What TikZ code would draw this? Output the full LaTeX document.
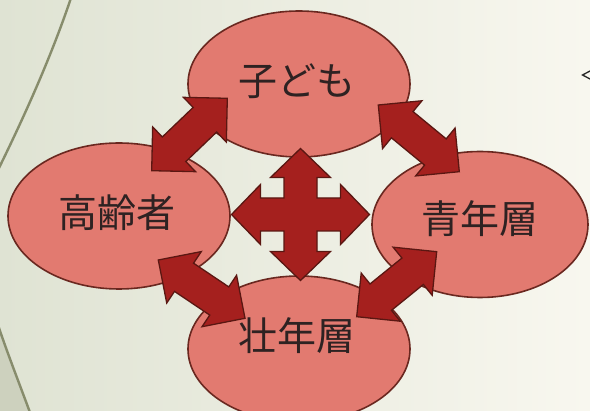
\documentclass[tikz,border=0pt]{standalone}
\usepackage{fontspec}
\newfontfamily\cjk{Noto Sans CJK JP}
\usetikzlibrary{shapes.geometric,calc}
\definecolor{bgL}{HTML}{DFE3D3}
\definecolor{bgR}{HTML}{F8F7EF}
\definecolor{edge}{HTML}{CDD1BE}
\definecolor{ellfill}{HTML}{E27A70}
\definecolor{ellline}{HTML}{6A2820}
\definecolor{arrfill}{HTML}{A5201E}
\definecolor{arrline}{HTML}{5A1712}
\definecolor{txt}{HTML}{2E2222}
\definecolor{arcc}{HTML}{878C6C}
% double-headed block arrow between two named coordinates
\newcommand\dblarrow[2]{%
  \coordinate (p1) at ($(#1)!31pt!(#2)$);
  \coordinate (p2) at ($(#2)!31pt!(#1)$);
  \draw[arr] (#1) -- ($(p1)!31pt!90:(#2)$) -- ($(p1)!17pt!90:(#2)$)
    -- ($(p2)!17pt!-90:(#1)$) -- ($(p2)!31pt!-90:(#1)$) -- (#2)
    -- ($(p2)!31pt!90:(#1)$) -- ($(p2)!17pt!90:(#1)$)
    -- ($(p1)!17pt!-90:(#2)$) -- ($(p1)!31pt!-90:(#2)$) -- cycle;
}
\begin{document}
\begin{tikzpicture}[x=1pt,y=-1pt,
  ell/.style={ellipse, draw=ellline, fill=ellfill, line width=1.6pt,
    minimum width=222pt, minimum height=146pt, inner sep=0pt},
  lbl/.style={font=\cjk\fontsize{39}{39}\selectfont, text=txt, inner sep=0pt},
  arr/.style={draw=arrline, fill=arrfill, line width=1.3pt, line join=miter},
  arcline/.style={draw=arcc, line width=2.4pt}]
\useasboundingbox (0,0) rectangle (590,411);
\shade[left color=bgL, right color=bgR] (0,0) rectangle (590,411);
% left page arc
\fill[edge] (-5,325) -- (-2,325) .. controls (8,355) and (20,385) .. (32,418) -- (-5,418) -- cycle;
\draw[arcline] (72,-5) .. controls (52,55) and (25,115) .. (-2,170);
\draw[arcline] (-2,325) .. controls (8,355) and (20,385) .. (32,418);
% cut-off mark at right edge
\draw[line width=1.3pt, black!85] (591,70.5) -- (582.5,75) -- (591,79.5);
% ellipses
\node[ell] (kodomo) at (299,84) {};
\node[ell] (koureisha) at (119,216) {};
\node[ell, minimum width=216pt] (seinen) at (480,224.5) {};
\node[ell] (sounen) at (299,349) {};
% labels
\node[lbl] (tkodomo) at (297,81) {子ども};
\node[lbl] (tkoureisha) at (117.5,213) {高齢者};
\node[lbl] (tseinen) at (480,219) {青年層};
\node[lbl] (tsounen) at (297,336) {壮年層};
% arrow end points
\coordinate (tlA) at (151.7,170.7);
\coordinate (tlB) at (227.3,98.3);
\coordinate (trA) at (378.3,105);
\coordinate (trB) at (459.3,171.7);
\coordinate (blA) at (158.3,260);
\coordinate (blB) at (245,318.3);
\coordinate (brA) at (356.7,316.7);
\coordinate (brB) at (436.7,251.7);
\dblarrow{tlA}{tlB}
\dblarrow{trA}{trB}
\dblarrow{blA}{blB}
\dblarrow{brA}{brB}
% central four-way arrow
\coordinate (hub) at (300.5,214.5);
\begin{scope}[shift={(hub)}]
\draw[arr] (0,-66) -- (30,-37) -- (16.5,-37) -- (16.5,-16.5) -- (40,-16.5) -- (40,-30)
  -- (69,0) -- (40,30) -- (40,16.5) -- (16.5,16.5) -- (16.5,37) -- (30,37)
  -- (0,66) -- (-30,37) -- (-16.5,37) -- (-16.5,16.5) -- (-40,16.5) -- (-40,30)
  -- (-69,0) -- (-40,-30) -- (-40,-16.5) -- (-16.5,-16.5) -- (-16.5,-37) -- (-30,-37) -- cycle;
\end{scope}
\end{tikzpicture}
\end{document}
